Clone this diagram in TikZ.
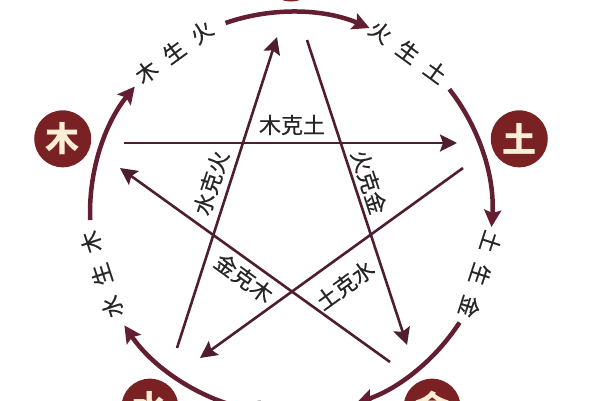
\documentclass[tikz,border=0pt]{standalone}
\usepackage{fontspec}
\setmainfont{Noto Sans CJK SC}
\usetikzlibrary{arrows.meta}
\definecolor{arcred}{HTML}{641E32}
\definecolor{linered}{HTML}{4E1E2C}
\definecolor{elemred}{HTML}{7A2124}
\definecolor{cream}{HTML}{FBEED5}
\definecolor{labgray}{HTML}{262626}
\tikzset{
    %Define standard arrow tip
    >={Stealth[length=17pt,width=17pt,inset=3pt]},
    %Define style for element discs
    elem/.style={
           circle,
           fill=elemred,
           text=cream,
           minimum size=57pt,
           inner sep=0pt,
           font=\fontsize{34}{34}\selectfont\bfseries},
    lab/.style={
           text=labgray,
           inner sep=0pt,
           font=\fontsize{22}{22}\selectfont\addfontfeatures{FakeBold=0.4}},
    % Define arrow style
    sheng/.style={
           ->,
           draw=arcred,
           line width=4.5pt},
    ke/.style={
           ->,
           draw=linered,
           line width=2.6pt}
}

\begin{document}
\begin{tikzpicture}[x=1pt, y=1pt]
    \useasboundingbox (-291,-187) rectangle (309,213);
    \clip (-291,-187) rectangle (309,213);

    % ELEMENTS
    \node[elem] at (162:240) (wood) {木};
    \node[elem] at (90:240) (fire) {火};
    \node[elem] at (18:240) (earth) {土};
    \node[elem] at (-54:240) (metal) {金};
    \node[elem] at (-126:240) (water) {水};

    % GENERATING CYCLE
    \coordinate (woodA) at (182:201);
    \coordinate (fireA) at (109:201);
    \coordinate (earthA) at (38:201);
    \coordinate (metalA) at (-33:201);
    \coordinate (waterA) at (-108:201);
    \draw[sheng] (woodA) arc[start angle=182, end angle=141, radius=201];
    \draw[sheng] (fireA) arc[start angle=109, end angle=67, radius=201];
    \draw[sheng] (earthA) arc[start angle=38, end angle=-4, radius=201];
    \draw[sheng] (metalA) arc[start angle=-33, end angle=-71, radius=201];
    \draw[sheng] (waterA) arc[start angle=-108, end angle=-146, radius=201];

    \node[lab, rotate=36] at (126:199) (wsf) {木\hskip12pt 生\hskip12pt 火};
    \node[lab, rotate=-36] at (54:199) (fst) {火\hskip12pt 生\hskip12pt 土};
    \node[lab, rotate=-108] at (-18:199) (tsj) {土\hskip12pt 生\hskip12pt 金};
    \node[lab, rotate=180] at (-90:198) (jss) {金\hskip12pt 生\hskip12pt 水};
    \node[lab, rotate=108] at (-162:199) (ssm) {水\hskip12pt 生\hskip12pt 木};

    % CONTROLLING CYCLE
    \coordinate (kWoodS) at (-167,70);
    \coordinate (kWoodE) at (166,70);
    \coordinate (kWaterS) at (-114,-135);
    \coordinate (kWaterE) at (-14,176);
    \coordinate (kFireS) at (16,173);
    \coordinate (kFireE) at (116,-132);
    \coordinate (kEarthS) at (172,45);
    \coordinate (kEarthE) at (-91,-145);
    \coordinate (kMetalS) at (99,-149);
    \coordinate (kMetalE) at (-171,45);
    \draw[ke] (kWoodS) -- (kWoodE);
    \draw[ke] (kEarthS) -- (kEarthE);
    \draw[ke] (kWaterS) -- (kWaterE);
    \draw[ke] (kFireS) -- (kFireE);
    \draw[ke] (kMetalS) -- (kMetalE);

    \node[lab] at (1,88) (wke) {木克土};
    \node[lab, rotate=-72] at (78,31) (fke) {火克金};
    \node[lab, rotate=72] at (-80,30) (ske) {水克火};
    \node[lab, rotate=-36] at (-47,-65) (jke) {金克木};
    \node[lab, rotate=36] at (54,-72) (tke) {土克水};
\end{tikzpicture}
\end{document}
